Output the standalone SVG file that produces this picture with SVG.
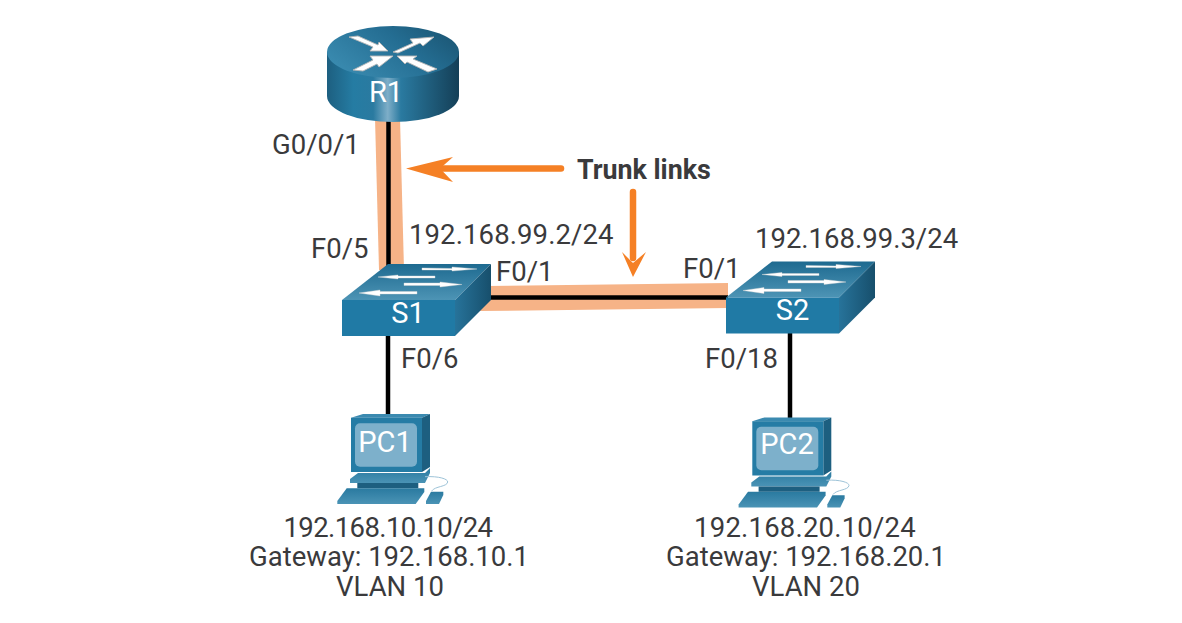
<svg xmlns="http://www.w3.org/2000/svg" width="1182" height="623" viewBox="0 0 1182 623">
<style>
text{font-family:Roboto,"Liberation Sans",sans-serif;font-size:27.5px;fill:#3a3a3c}
.c{text-anchor:middle}
.n{fill:#fff;text-anchor:middle;font-size:29px}
.ar{fill:#fff;stroke:#b5b5b5;stroke-width:.9}
.sa{fill:#fff;stroke:#d5d5d5;stroke-width:.4}
.trunk{fill:#f6b387}
.eth{stroke:#000;stroke-width:4.5;fill:none}
.or{stroke:#f58025;stroke-width:6.5;stroke-linecap:round;fill:none}
.orh{fill:#f58025}
</style>
<defs>
<linearGradient id="rs" x1="0" x2="1" y1="0" y2="0"><stop offset="0" stop-color="#1d5f80"/><stop offset=".2" stop-color="#257ca3"/><stop offset=".35" stop-color="#2a7aa0"/><stop offset=".46" stop-color="#7eaec8"/><stop offset=".56" stop-color="#2a7aa0"/><stop offset="1" stop-color="#143f57"/></linearGradient>
<linearGradient id="rt" x1="0" x2="1" y1=".7" y2=".2"><stop offset="0" stop-color="#3a8bb0"/><stop offset=".6" stop-color="#246d92"/><stop offset="1" stop-color="#1b5674"/></linearGradient>
<linearGradient id="st" x1="0" x2="0" y1="0" y2="1"><stop offset="0" stop-color="#1e6a90"/><stop offset="1" stop-color="#4d94b5"/></linearGradient>
<linearGradient id="ss" x1="0" x2="1" y1="0" y2="0"><stop offset="0" stop-color="#27739a"/><stop offset="1" stop-color="#174f6c"/></linearGradient>
<linearGradient id="pk" x1="0" x2="0" y1="0" y2="1"><stop offset="0" stop-color="#2a7aa0"/><stop offset="1" stop-color="#4a93b5"/></linearGradient>
<g id="swbody">
<polygon points="0,36 46,0 149,0 113,36" fill="url(#st)"/>
<polygon points="113,36 149,0 149,36 113,72" fill="url(#ss)"/>
<rect x="0" y="36" width="113" height="36" fill="#207aa5"/>
<polygon class="sa" points="80,4 110,4.5 110,3 135,5 110,7 110,6 80,6"/>
<polygon class="sa" points="93,12 56,12 56,11 36,13 56,15 56,14 93,14"/>
<polygon class="sa" points="62,19 98,19 98,18 120,20.5 98,23 98,21.500 62,21.500"/>
<polygon class="sa" points="75,27.500 38,27.500 38,26 17,29 38,32 38,30 75,30"/>
</g>
<g id="pcbody">
<polygon points="0,3.700 12,0 79,0 71,3.700" fill="#3b8ab0"/>
<polygon points="71,3.700 79,0 79,53 71,58" fill="#1d5f80"/>
<rect x="0" y="3.700" width="71" height="54.300" fill="#257ca5"/>
<rect x="4" y="9.300" width="62" height="43.400" rx="5" fill="#7db0cb"/>
<polygon points="7,59 74,59 79,54 79,59 74,69 -1,69 -1,65" fill="url(#pk)"/>
<rect x="6.300" y="69" width="61" height="5.300" fill="#1d5f80"/>
<polygon points="-4.300,74.300 73.300,74.300 73.300,78 64.700,90 -13.700,90 -13.700,87" fill="url(#pk)"/>
<polygon points="80,77.700 92.300,77.700 92.300,81 88,90 75,90 75,87" fill="url(#pk)"/>
<path d="M74,62.700 C88,62 97,65 96.700,68 C96,73 84,72 80.700,77" fill="none" stroke="#9dc3d8" stroke-width="1"/>
</g>
</defs>
<g id="connectors">
<polygon class="trunk" points="375,118 400,118 404,270 379,270"/>
<polygon class="trunk" points="485,286 728,283 728,308 480,311"/>
<line class="eth" x1="388.500" y1="118" x2="388.500" y2="268"/>
<line class="eth" x1="488" y1="297.500" x2="728" y2="297.500"/>
<line class="eth" x1="388" y1="335" x2="388" y2="415"/>
<line class="eth" x1="790" y1="332" x2="790" y2="419"/>
</g>
<g id="R1">
<path d="M327,52 V96 A66,26 0 0 0 459,96 V52 Z" fill="url(#rs)"/>
<ellipse cx="393" cy="52" rx="66" ry="26" fill="url(#rt)"/>
<polygon class="ar" points="349,37 358,36 378,45 379,42 388,51 370,51 373,47"/>
<polygon class="ar" points="393,52 413,43 410,39 434,37 423,46 420,43 398,53"/>
<polygon class="ar" points="393,56 370,56 373,60 353,70 363,71 377,64 379,67"/>
<polygon class="ar" points="397,56 417,56 413,59 437,69 428,72 407,62 405,64"/>
<text class="n" x="386" y="102">R1</text>
</g>
<g id="S1"><use href="#swbody" x="342" y="264"/><text class="n" x="408" y="323">S1</text></g>
<g id="S2"><use href="#swbody" x="726" y="261.500"/><text class="n" x="792.500" y="319.500">S2</text></g>
<g id="PC1"><use href="#pcbody" x="351" y="414"/><text class="n" x="385" y="452">PC1</text></g>
<g id="PC2"><use href="#pcbody" x="752.300" y="417.500"/><text class="n" x="787" y="454">PC2</text></g>
<g id="callout">
<line class="or" x1="561" y1="168.500" x2="430" y2="168.500"/>
<polygon class="orh" points="406,168.500 453,157 440,168.500 453,182"/>
<line class="or" x1="633" y1="192" x2="633" y2="258"/>
<polygon class="orh" points="633,277 622,252 633,263 646,252"/>
<text x="577" y="179" style="font-weight:700;font-size:26.800px">Trunk links</text>
</g>
<g id="labels">
<text x="272" y="154">G0/0/1</text>
<text x="311" y="258">F0/5</text>
<text x="409" y="244" style="letter-spacing:.1px">192.168.99.2/24</text>
<text x="755" y="248">192.168.99.3/24</text>
<text x="496" y="281">F0/1</text>
<text x="683" y="278">F0/1</text>
<text x="401" y="368">F0/6</text>
<text x="705" y="368">F0/18</text>
<text class="c"><tspan x="388" y="537" style="letter-spacing:-.6px">192.168.10.10/24</tspan><tspan x="389" y="566">Gateway: 192.168.10.1</tspan><tspan x="390" y="596">VLAN 10</tspan></text>
<text class="c"><tspan x="805" y="537" style="letter-spacing:.2px">192.168.20.10/24</tspan><tspan x="806" y="566">Gateway: 192.168.20.1</tspan><tspan x="806" y="596">VLAN 20</tspan></text>
</g>
</svg>
